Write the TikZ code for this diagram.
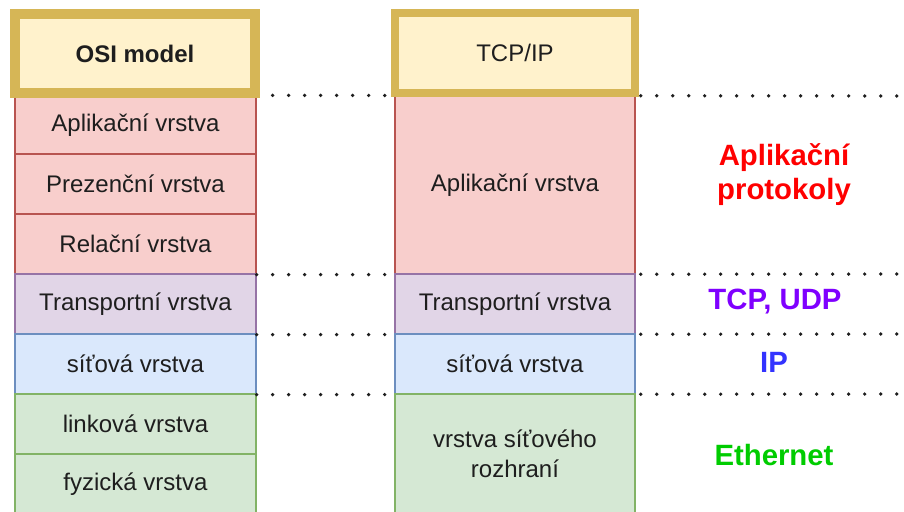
\documentclass[tikz,border=0pt]{standalone}
\usepackage{fontspec}
\setmainfont{Liberation Sans}
\definecolor{redfill}{HTML}{F8CECC}\definecolor{redline}{HTML}{B85450}
\definecolor{purfill}{HTML}{E1D5E7}\definecolor{purline}{HTML}{9673A6}
\definecolor{blufill}{HTML}{DAE8FC}\definecolor{bluline}{HTML}{6C8EBF}
\definecolor{grnfill}{HTML}{D5E8D4}\definecolor{grnline}{HTML}{82B366}
\definecolor{yelfill}{HTML}{FFF2CC}\definecolor{yelline}{HTML}{D6B656}
\definecolor{txt}{HTML}{1E1E1E}
\definecolor{protored}{HTML}{FF0000}
\definecolor{protopur}{HTML}{7F00FF}
\definecolor{protoblu}{HTML}{3333FF}
\definecolor{protogrn}{HTML}{00CC00}
\tikzset{
  layer/.style={draw, line width=1pt, inner sep=0pt, align=center,
    text=txt, font=\fontsize{18}{22.5}\selectfont},
  w/.style={minimum width={#1*0.75pt}},
  h/.style={minimum height={#1*0.75pt}},
  red layer/.style={layer, fill=redfill, draw=redline},
  pur layer/.style={layer, fill=purfill, draw=purline},
  blu layer/.style={layer, fill=blufill, draw=bluline},
  grn layer/.style={layer, fill=grnfill, draw=grnline},
  header/.style={layer, fill=yelfill, draw=yelline, minimum width=180pt},
  proto/.style={font=\fontsize{22}{25.5}\selectfont\bfseries, align=center},
  divider/.style={draw=txt, line width=2.8pt, line cap=round,
    dash pattern=on 0pt off 12pt},
}
\begin{document}
\begin{tikzpicture}[x=0.75pt, y=-0.75pt]
\useasboundingbox (0,0) rectangle (904,511);
\clip (0,0) rectangle (904,511);

% OSI reference model, seven layers
\node[red layer, w=241, h=58] (osi7) at (135.5,125) {Aplikační vrstva};
\node[red layer, w=241, h=60] (osi6) at (135.5,184) {Prezenční vrstva};
\node[red layer, w=241, h=60] (osi5) at (135.5,244) {Relační vrstva};
\node[pur layer, w=241, h=60] (osi4) at (135.5,304) {Transportní vrstva};
\node[blu layer, w=241, h=60] (osi3) at (135.5,364) {síťová vrstva};
\node[grn layer, w=241, h=60] (osi2) at (135.5,424) {linková vrstva};
\node[grn layer, w=241, h=60] (osi1) at (135.5,484) {fyzická vrstva};

% layer boundaries carried across to the right margin
\coordinate (edge96)  at (904,96);
\coordinate (edge274) at (904,274);
\coordinate (edge334) at (904,334);
\coordinate (edge394) at (904,394);
\path[divider] (osi7.north east) -- (edge96);
\path[divider] (osi5.south east) -- (edge274);
\path[divider] (osi4.south east) -- (edge334);
\path[divider] (osi3.south east) -- (edge394);

% TCP/IP model, four layers
\node[red layer, w=240, h=178] (tcp4) at (515,185) {Aplikační vrstva};
\node[pur layer, w=240, h=60]  (tcp3) at (515,304) {Transportní vrstva};
\node[blu layer, w=240, h=60]  (tcp2) at (515,364) {síťová vrstva};
\node[grn layer, w=240, h=120] (tcp1) at (515,454) {vrstva síťového\\rozhraní};

% column headers
\node[header, h=79, line width=7.5pt, font=\fontsize{18}{22.5}\selectfont\bfseries]
  (osihead) at (135,53.5) {OSI model};
\node[header, h=80, line width=6pt] (tcphead) at (515,53) {TCP/IP};

% protocols of each TCP/IP layer
\node[proto, text=protored] (papp)  at (784,175) {Aplikační\\protokoly};
\node[proto, text=protopur] (ptrans) at (775,302) {TCP, UDP};
\node[proto, text=protoblu] (pnet)  at (774,362) {IP};
\node[proto, text=protogrn] (plink) at (774,455) {Ethernet};
\end{tikzpicture}
\end{document}
